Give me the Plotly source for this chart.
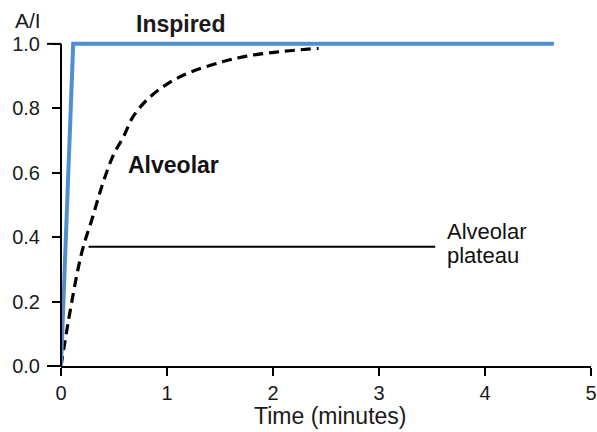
import plotly.graph_objects as go

# Data
inspired_t = [0.0, 0.115, 4.65]
inspired_v = [0.0, 1.0, 1.0]

alveolar_t = [0.0, 0.07, 0.16, 0.21, 0.29, 0.385, 0.49, 0.59, 0.68, 0.81, 1.0, 1.22, 1.53, 1.75, 2.07, 2.43]
alveolar_v = [0.0, 0.14, 0.30, 0.37, 0.453, 0.557, 0.652, 0.712, 0.774, 0.826, 0.875, 0.912, 0.945, 0.962, 0.976, 0.986]

plateau_t = [0.26, 3.53]
plateau_v = [0.37, 0.37]

x_ticks = [0, 1, 2, 3, 4, 5]
y_ticks = [0.0, 0.2, 0.4, 0.6, 0.8, 1.0]
y_tick_text = ["0.0", "0.2", "0.4", "0.6", "0.8", "1.0"]

FONT = "Liberation Sans, Arial, Helvetica, sans-serif"
TXT = "#1a1a1a"
Y_TOP = 1.012  # small headroom so the thick line at 1.0 is not clipped

fig = go.Figure()
fig.add_trace(go.Scatter(x=plateau_t, y=plateau_v, mode="lines",
                         line=dict(color="black", width=2), hoverinfo="skip"))
fig.add_trace(go.Scatter(x=alveolar_t, y=alveolar_v, mode="lines", line_shape="spline",
                         line=dict(color="black", width=3.2, dash="10px,6px")))
fig.add_trace(go.Scatter(x=inspired_t, y=inspired_v, mode="lines",
                         line=dict(color="#4f8fd0", width=4)))

ax_line = dict(color="black", width=2)
fig.update_layout(
    width=597, height=432,
    margin=dict(l=61, r=6, t=40, b=66, autoexpand=False),
    paper_bgcolor="white", plot_bgcolor="white",
    showlegend=False,
    font=dict(family=FONT, size=20, color=TXT),
    xaxis=dict(range=[0, 5], tickvals=x_ticks, showgrid=False, zeroline=False, automargin=False,
               showline=True, linecolor="black", linewidth=2,
               ticks="outside", ticklen=8, tickwidth=2, tickcolor="black",
               tickfont=dict(size=20, color=TXT)),
    yaxis=dict(range=[0, Y_TOP], tickvals=y_ticks, ticktext=y_tick_text, showgrid=False,
               zeroline=False, automargin=False, showline=False,
               ticks="outside", ticklen=8, tickwidth=2, tickcolor="black",
               ticklabelstandoff=8,
               tickfont=dict(size=20, color=TXT)),
    shapes=[
        dict(type="line", xref="x domain", yref="y domain", x0=0, x1=0, y0=0, y1=1 / Y_TOP, line=ax_line),
        dict(type="line", xref="x domain", yref="y domain", x0=-0.0264, x1=0, y0=0, y1=0, line=ax_line),
        dict(type="line", xref="x domain", yref="y domain", x0=-0.0264, x1=0, y0=1 / Y_TOP, y1=1 / Y_TOP, line=ax_line),
    ],
    annotations=[
        dict(text="A/I", xref="paper", yref="paper", x=-0.0906, y=1.061, showarrow=False,
             xanchor="left", yanchor="middle", font=dict(size=21, color=TXT)),
        dict(text="<b>Inspired</b>", xref="x", yref="paper", x=1.123, y=1.049, showarrow=False,
             xanchor="center", yanchor="middle", font=dict(size=23, color=TXT)),
        dict(text="<b>Alveolar</b>", xref="x", yref="y", x=1.061, y=0.624, showarrow=False,
             xanchor="center", yanchor="middle", font=dict(size=23, color="#111")),
        dict(text="Alveolar", xref="x", yref="y", x=3.62, y=0.418, showarrow=False,
             xanchor="left", yanchor="middle", font=dict(size=22, color="#111")),
        dict(text="plateau", xref="x", yref="y", x=3.62, y=0.343, showarrow=False,
             xanchor="left", yanchor="middle", font=dict(size=22, color="#111")),
        dict(text="Time (minutes)", xref="x", yref="paper", x=2.547, y=-0.153, showarrow=False,
             xanchor="center", yanchor="middle", font=dict(size=23, color=TXT)),
    ],
)

fig.write_html("out.html", config={"displayModeBar": False},
               post_script="document.body.style.margin='0';")
